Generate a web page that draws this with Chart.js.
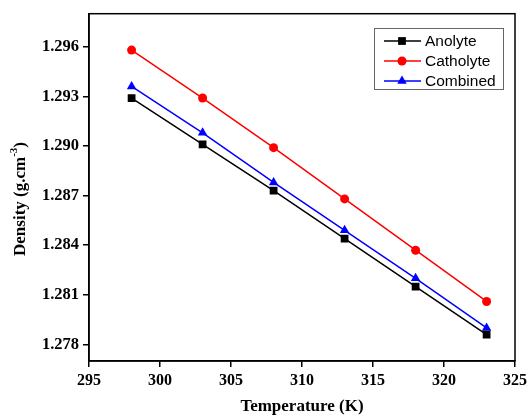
<!DOCTYPE html>
<html>
<head>
<meta charset="utf-8">
<script src="https://cdn.jsdelivr.net/npm/chart.js@4"></script>
<style>
html,body{margin:0;padding:0;background:#fff;}
#wrap{width:528px;height:417px;position:relative;}
</style>
</head>
<body>
<div id="wrap"><canvas id="c" width="528" height="417"></canvas></div>
<script>
const temperatures = [298, 303, 308, 313, 318, 323];
const anolyte   = [1.2929, 1.2901, 1.2873, 1.2844, 1.2815, 1.2786];
const catholyte = [1.2958, 1.2929, 1.2899, 1.2868, 1.2837, 1.2806];
const combined  = [1.2936, 1.2908, 1.2878, 1.2849, 1.2820, 1.2790];
const seriesNames = ['Anolyte', 'Catholyte', 'Combined'];
const xTicks = [295, 300, 305, 310, 315, 320, 325];
const yTicks = [1.278, 1.281, 1.284, 1.287, 1.290, 1.293, 1.296];
const xTitle = 'Temperature (K)';
const yTitleMain = 'Density (g.cm';
const yTitleSup = '-3';
const yTitleEnd = ')';

function pts(ys){ return temperatures.map((t,i)=>({x:t,y:ys[i]})); }

const serif = '"Liberation Serif","Times New Roman",serif';
const sans = '"Liberation Sans",Arial,sans-serif';

function drawMarker(ctx, style, x, y, r, color){
  ctx.save();
  ctx.fillStyle = color;
  ctx.beginPath();
  if(style==='rect'){
    const s = r/Math.SQRT2;
    ctx.rect(x-s, y-s, 2*s, 2*s);
  } else if(style==='circle'){
    ctx.arc(x, y, r, 0, Math.PI*2);
  } else if(style==='triangle'){
    ctx.moveTo(x, y-r);
    ctx.lineTo(x + r*Math.sin(Math.PI*2/3), y - r*Math.cos(Math.PI*2/3));
    ctx.lineTo(x + r*Math.sin(Math.PI*4/3), y - r*Math.cos(Math.PI*4/3));
    ctx.closePath();
  }
  ctx.fill();
  ctx.restore();
}

const framePlugin = {
  id:'frame',
  afterDraw(chart){
    const {ctx, chartArea:a} = chart;
    ctx.save();
    ctx.strokeStyle = '#000';
    ctx.lineWidth = 1.5;
    ctx.strokeRect(a.left, a.top, a.right-a.left, a.bottom-a.top);
    // legend
    const bx = 374.5, by = 28.5, bw = 129, bh = 61;
    ctx.lineWidth = 1;
    ctx.strokeStyle = '#666';
    ctx.strokeRect(bx, by, bw, bh);
    ctx.font = '15.5px ' + sans;
    ctx.textBaseline = 'middle';
    ctx.textAlign = 'left';
    chart.data.datasets.forEach((ds, i)=>{
      const yy = 41 + i*20;
      ctx.strokeStyle = ds.borderColor;
      ctx.lineWidth = 1.5;
      ctx.beginPath();
      ctx.moveTo(384, yy);
      ctx.lineTo(421, yy);
      ctx.stroke();
      drawMarker(ctx, ds.pointStyle, 402, yy, ds.pointRadius, ds.pointBackgroundColor);
      ctx.fillStyle = '#000';
      ctx.fillText(ds.label, 425, yy+1);
    });
    // y title with superscript
    ctx.save();
    ctx.translate(21, 199);
    ctx.rotate(-Math.PI/2);
    ctx.fillStyle = '#000';
    ctx.textBaseline = 'middle';
    const f1 = 'bold 17px ' + serif, f2 = 'bold 11px ' + serif;
    ctx.font = f1; const w1 = ctx.measureText(yTitleMain).width; const w3 = ctx.measureText(yTitleEnd).width;
    ctx.font = f2; const w2 = ctx.measureText(yTitleSup).width;
    let x0 = -(w1+w2+w3)/2;
    ctx.font = f1; ctx.textAlign='left';
    ctx.fillText(yTitleMain, x0, 0);
    ctx.font = f2; ctx.fillText(yTitleSup, x0+w1, -7);
    ctx.font = f1; ctx.fillText(yTitleEnd, x0+w1+w2, 0);
    ctx.restore();
    ctx.restore();
  }
};

const ds = (label, ys, color, style, r) => ({
  label, data: pts(ys), borderColor: color, backgroundColor: color,
  pointBackgroundColor: color, pointBorderColor: color, pointBorderWidth: 0,
  pointStyle: style, pointRadius: r, pointHoverRadius: r, borderWidth: 1.5,
  tension: 0, fill: false
});

new Chart(document.getElementById('c'), {
  type: 'line',
  data: {
    datasets: [
      ds(seriesNames[0], anolyte, '#000000', 'rect', 5.5),
      ds(seriesNames[1], catholyte, '#ff0000', 'circle', 4.5),
      ds(seriesNames[2], combined, '#0000ff', 'triangle', 5.5)
    ]
  },
  options: {
    responsive: false,
    animation: false,
    devicePixelRatio: 1,
    layout: { padding: { left: 0, top: 13.7, right: 13, bottom: 0 } },
    plugins: { legend: { display: false }, tooltip: { enabled: false } },
    scales: {
      x: {
        type: 'linear', min: 295, max: 325,
        afterBuildTicks(s){ s.ticks = xTicks.map(v=>({value:v})); },
        afterFit(s){ s.height = 56; s.paddingLeft = 0; s.paddingRight = 0; },
        grid: { display: true, drawOnChartArea: false, drawTicks: true, tickLength: 6, color: '#000', lineWidth: 1.5 },
        border: { display: true, color: '#000', width: 1.5 },
        ticks: { color: '#000', font: { family: serif, size: 16, weight: 'bold' }, padding: 4, maxRotation: 0, autoSkip: false, callback: v => String(v) },
        title: {
          display: true, text: xTitle, color: '#000',
          font: { family: serif, size: 17, weight: 'bold' }, padding: { top: 5, bottom: 0 }
        }
      },
      y: {
        type: 'linear', min: 1.277, max: 1.298,
        afterBuildTicks(s){ s.ticks = yTicks.map(v=>({value:v})); },
        afterFit(s){ s.width = 89; s.paddingTop = 0; s.paddingBottom = 0; },
        grid: { display: true, drawOnChartArea: false, drawTicks: true, tickLength: 6, color: '#000', lineWidth: 1.5 },
        border: { display: true, color: '#000', width: 1.5 },
        ticks: { color: '#000', font: { family: serif, size: 16.5, weight: 'bold' }, padding: 4, autoSkip: false, callback: v => Number(v).toFixed(3) }
      }
    }
  },
  plugins: [framePlugin]
});
</script>
</body>
</html>
